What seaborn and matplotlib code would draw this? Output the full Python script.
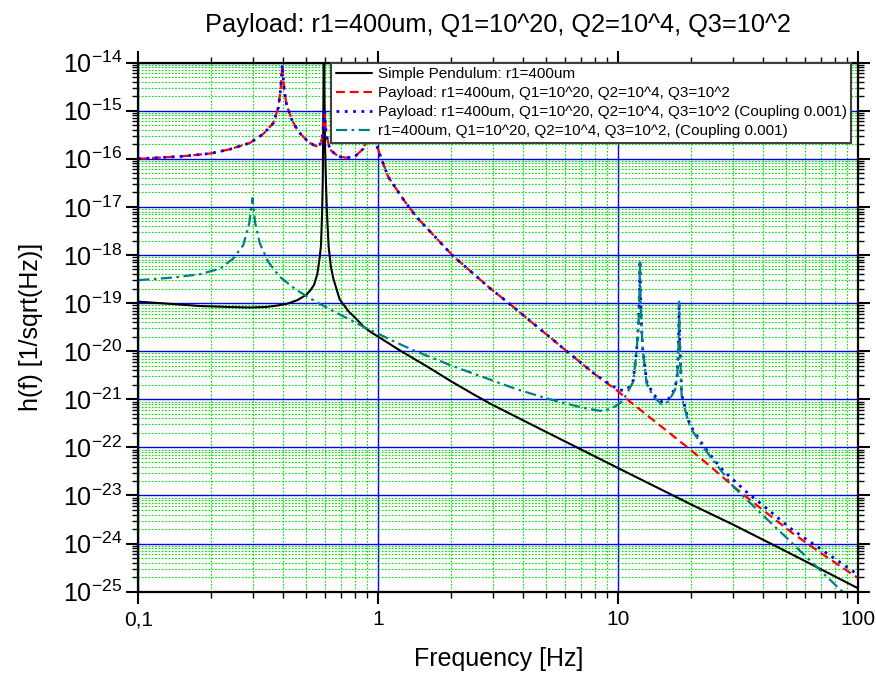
import matplotlib
matplotlib.use("Agg")
import matplotlib.pyplot as plt
import seaborn as sns
from matplotlib.ticker import FixedLocator, FixedFormatter, LogLocator, NullFormatter

# ---- data: strain sensitivity h(f) in 1/sqrt(Hz) ----
pendulum_f = [0.1, 0.14, 0.18, 0.24, 0.29, 0.34, 0.38, 0.42, 0.46, 0.50, 0.52, 0.54,
              0.557, 0.570, 0.577, 0.583, 0.587, 0.589, 0.591, 0.5935, 0.596, 0.599,
              0.605, 0.611, 0.621, 0.635, 0.65, 0.69, 0.75, 0.80, 0.87, 0.93, 1.0, 1.2,
              1.4, 1.7, 2.0, 2.5, 3.0, 5.0, 10, 20, 30, 50, 100]
pendulum_h = [1.07e-19, 9.55e-20, 8.71e-20, 8.3e-20, 8.1e-20, 8.3e-20, 8.9e-20, 9.8e-20,
              1.15e-19, 1.48e-19, 1.82e-19, 2.4e-19, 4.0e-19, 8.9e-19, 1.58e-18, 7.1e-18,
              3.5e-17, 2.5e-16, 2.5e-15, 3.2e-13, 2.5e-15, 2.5e-16, 3.5e-17, 7.4e-18,
              1.48e-18, 5.6e-19, 3.2e-19, 1.2e-19, 6.8e-20, 5.0e-20, 3.2e-20, 2.5e-20,
              2.0e-20, 1.12e-20, 7.1e-21, 3.98e-21, 2.4e-21, 1.26e-21, 7.6e-22, 2.1e-22,
              3.7e-23, 6.6e-24, 2.5e-24, 6.9e-25, 1.17e-25]

payload_f = [0.1, 0.15, 0.2, 0.241, 0.292, 0.332, 0.365, 0.383, 0.392, 0.398, 0.405,
             0.415, 0.436, 0.464, 0.511, 0.55, 0.572, 0.585, 0.596, 0.607, 0.629, 0.681,
             0.738, 0.80, 0.866, 0.905, 0.935, 0.96, 0.985, 1.03, 1.10, 1.29, 1.45, 2.05,
             2.92, 3.54, 4.5, 6.1, 8.0, 10, 11.2, 15, 20, 25, 30, 40, 52.8, 70, 100]
payload_h = [1.0e-16, 1.12e-16, 1.29e-16, 1.58e-16, 2.14e-16, 3.3e-16, 5.5e-16, 1.15e-15,
             2.8e-15, 9.1e-15, 2.8e-15, 1.32e-15, 6.5e-16, 3.7e-16, 2.24e-16, 1.82e-16,
             2.0e-16, 2.8e-16, 9.3e-16, 3.2e-16, 1.55e-16, 1.12e-16, 1.05e-16, 1.12e-16,
             1.62e-16, 2.8e-16, 6.3e-16, 3.5e-16, 1.9e-16, 1.0e-16, 4.2e-17, 1.29e-17,
             6.0e-18, 9.5e-19, 2.04e-19, 9.5e-20, 3.5e-20, 1.0e-20, 3.3e-21, 1.45e-21,
             8.9e-22, 2.8e-22, 8.9e-23, 3.5e-23, 1.58e-23, 5.0e-24, 1.7e-24, 6.3e-25, 1.9e-25]

coupled_payload_f = [0.1, 0.15, 0.2, 0.241, 0.292, 0.332, 0.365, 0.383, 0.392, 0.398, 0.405,
                     0.415, 0.436, 0.464, 0.511, 0.55, 0.572, 0.585, 0.596, 0.607, 0.629, 0.681,
                     0.738, 0.80, 0.866, 0.905, 0.935, 0.96, 0.985, 1.03, 1.10, 1.29, 1.45, 2.05,
                     2.92, 3.54, 4.5, 6.1, 8.0, 9.0, 10.0, 10.66, 11.2, 11.55, 11.93, 12.15,
                     12.26, 12.31, 12.36, 12.47, 12.64, 13.13, 14.0, 15.17, 16.15, 17.22, 17.6,
                     17.8, 17.88, 17.92, 17.97, 18.07, 18.37, 19.6, 20.5, 22.6, 25, 27.5, 30.2,
                     35, 40, 52, 70, 100]
coupled_payload_h = [1.0e-16, 1.12e-16, 1.29e-16, 1.58e-16, 2.14e-16, 3.3e-16, 5.5e-16, 1.15e-15,
                     2.8e-15, 9.1e-15, 2.8e-15, 1.32e-15, 6.5e-16, 3.7e-16, 2.24e-16, 1.82e-16,
                     2.0e-16, 2.8e-16, 9.3e-16, 3.2e-16, 1.55e-16, 1.12e-16, 1.05e-16, 1.12e-16,
                     1.62e-16, 2.8e-16, 6.3e-16, 3.5e-16, 1.9e-16, 1.0e-16, 4.2e-17, 1.29e-17,
                     6.0e-18, 9.5e-19, 2.04e-19, 9.5e-20, 3.5e-20, 1.0e-20, 3.3e-21, 2.24e-21,
                     1.58e-21, 1.51e-21, 1.86e-21, 2.5e-21, 1.07e-20, 4.0e-20, 2.0e-19, 7.6e-19,
                     2.0e-19, 4.0e-20, 1.12e-20, 2.34e-21, 1.26e-21, 8.9e-22, 1.0e-21, 1.66e-21,
                     3.2e-21, 1.12e-20, 4.0e-20, 1.0e-19, 4.0e-20, 1.12e-20, 1.26e-21, 3.6e-22,
                     2.3e-22, 1.1e-22, 5.6e-23, 3.2e-23, 2.1e-23, 1.07e-23, 6.3e-24, 2.1e-24,
                     7.6e-25, 2.24e-25]

coupled_f = [0.1, 0.14, 0.181, 0.219, 0.249, 0.274, 0.29, 0.299, 0.307, 0.321, 0.348, 0.389,
             0.457, 0.553, 0.649, 0.75, 0.87, 1.0, 1.2, 1.4, 1.7, 2.0, 2.5, 3.0, 3.77, 5.19,
             7.0, 8.4, 9.3, 10.17, 10.66, 11.55, 11.93, 12.15, 12.26, 12.31, 12.36, 12.47,
             12.64, 13.13, 14.0, 15.17, 16.15, 17.22, 17.6, 17.8, 17.88, 17.92, 17.97, 18.07,
             18.37, 19.6, 20.5, 22.6, 30.2, 40, 50, 65, 88, 100]
coupled_h = [3.0e-19, 3.4e-19, 4.0e-19, 5.2e-19, 8.5e-19, 1.62e-18, 4.6e-18, 1.51e-17, 4.6e-18,
             1.74e-18, 7.2e-19, 3.5e-19, 1.86e-19, 1.05e-19, 6.8e-20, 4.7e-20, 3.2e-20,
             2.3e-20, 1.48e-20, 1.05e-20, 7.1e-21, 5.1e-21, 3.4e-21, 2.45e-21, 1.62e-21,
             1.0e-21, 6.8e-22, 5.75e-22, 6.3e-22, 8.3e-22, 1.12e-21, 2.34e-21, 1.07e-20,
             4.0e-20, 2.0e-19, 7.9e-19, 2.0e-19, 4.0e-20, 1.07e-20, 2.14e-21, 1.12e-21,
             7.9e-22, 8.9e-22, 1.55e-21, 2.95e-21, 1.12e-20, 4.0e-20, 1.07e-19, 4.0e-20,
             1.12e-20, 1.12e-21, 3.3e-22, 2.1e-22, 1.0e-22, 1.51e-23, 3.9e-24, 1.35e-24,
             3.8e-25, 8.9e-26, 5.0e-26]

series_labels = [
    "Simple Pendulum: r1=400um",
    "Payload: r1=400um, Q1=10^20, Q2=10^4, Q3=10^2",
    "Payload: r1=400um, Q1=10^20, Q2=10^4, Q3=10^2 (Coupling 0.001)",
    "r1=400um, Q1=10^20, Q2=10^4, Q3=10^2, (Coupling 0.001)",
]
title_text = "Payload: r1=400um, Q1=10^20, Q2=10^4, Q3=10^2"
xtick_values = [0.1, 1, 10, 100]
xtick_labels = ["0,1", "1", "10", "100"]
ytick_exponents = list(range(-25, -13))

# ---- style ----
sns.set_style("ticks")
plt.rcParams["font.family"] = ["Liberation Sans", "DejaVu Sans"]
plt.rcParams["mathtext.fontset"] = "custom"
plt.rcParams["mathtext.rm"] = "Liberation Sans"
plt.rcParams["mathtext.it"] = "Liberation Sans:italic"
plt.rcParams["mathtext.bf"] = "Liberation Sans:bold"
for key in ("text.color", "axes.labelcolor", "xtick.color", "ytick.color", "axes.edgecolor"):
    plt.rcParams[key] = "black"

fig = plt.figure(figsize=(8.76, 6.74), dpi=100)
ax = fig.add_axes([138.3 / 876, 1 - 591.7 / 674, 720 / 876, 529.1 / 674])
ax.set_xscale("log")
ax.set_yscale("log")

line_specs = [
    (pendulum_f, pendulum_h, "#000000", "-", 1.5),
    (payload_f, payload_h, "#ff0000", (0, (4.0, 2.2)), 1.6),
    (coupled_payload_f, coupled_payload_h, "#0000ff", (0, (1.0, 2.0)), 2.0),
    (coupled_f, coupled_h, "#008080", (0, (5.0, 2.0, 1.2, 2.0)), 1.6),
]
for (fx, hy, col, ls, lw), lab in zip(line_specs, series_labels):
    sns.lineplot(x=fx, y=hy, ax=ax, color=col, linestyle=ls, linewidth=lw,
                 label=lab, estimator=None, sort=False)

ax.set_xlim(0.1, 100)
ax.set_ylim(1e-25, 1e-14)

# grid: blue decades, green dotted sub-decades
ax.set_axisbelow(True)
ax.grid(True, which="major", color="#0000ff", linewidth=1.0, linestyle="-")
ax.grid(True, which="minor", color="#00e600", linewidth=0.8, linestyle=(0, (1.5, 1.5)))

ax.xaxis.set_major_locator(FixedLocator(xtick_values))
ax.xaxis.set_major_formatter(FixedFormatter(xtick_labels))
ax.xaxis.set_minor_locator(LogLocator(base=10, subs=range(2, 10), numticks=100))
ax.xaxis.set_minor_formatter(NullFormatter())

ax.yaxis.set_major_locator(FixedLocator([10.0 ** e for e in ytick_exponents]))
ax.yaxis.set_major_formatter(FixedFormatter([r"$10^{%d}$" % e for e in ytick_exponents]))
ax.yaxis.set_minor_locator(LogLocator(base=10, subs=range(2, 10), numticks=200))
ax.yaxis.set_minor_formatter(NullFormatter())

ax.tick_params(which="major", direction="out", length=8.5, width=1.5, color="black",
               top=True, right=True, labeltop=False, labelright=False)
ax.tick_params(which="minor", direction="out", length=4.5, width=1.0, color="black",
               top=True, right=True)
ax.tick_params(axis="x", which="major", labelsize=15, pad=5)
ax.tick_params(axis="y", which="major", labelsize=18, pad=3)

for sp in ax.spines.values():
    sp.set_visible(True)
    sp.set_linewidth(1.6)
    sp.set_color("black")

ax.set_title(title_text, fontsize=18.3, pad=22)
ax.set_xlabel("Frequency [Hz]", fontsize=18)
ax.set_ylabel("h(f) [1/sqrt(Hz)]", fontsize=18)
ax.xaxis.set_label_coords(0.5, -0.105)
ax.yaxis.set_label_coords(-0.133, 0.5)

leg = ax.legend(loc="upper right", bbox_to_anchor=(1 - 7 / 720, 1.0), borderaxespad=0,
                fontsize=11, frameon=True, fancybox=False, framealpha=1,
                edgecolor="#404040", handlelength=2.4, handletextpad=0.35,
                labelspacing=0.33, borderpad=0.3)
leg.get_frame().set_linewidth(1.5)

fig.savefig("out.png", dpi=100)
